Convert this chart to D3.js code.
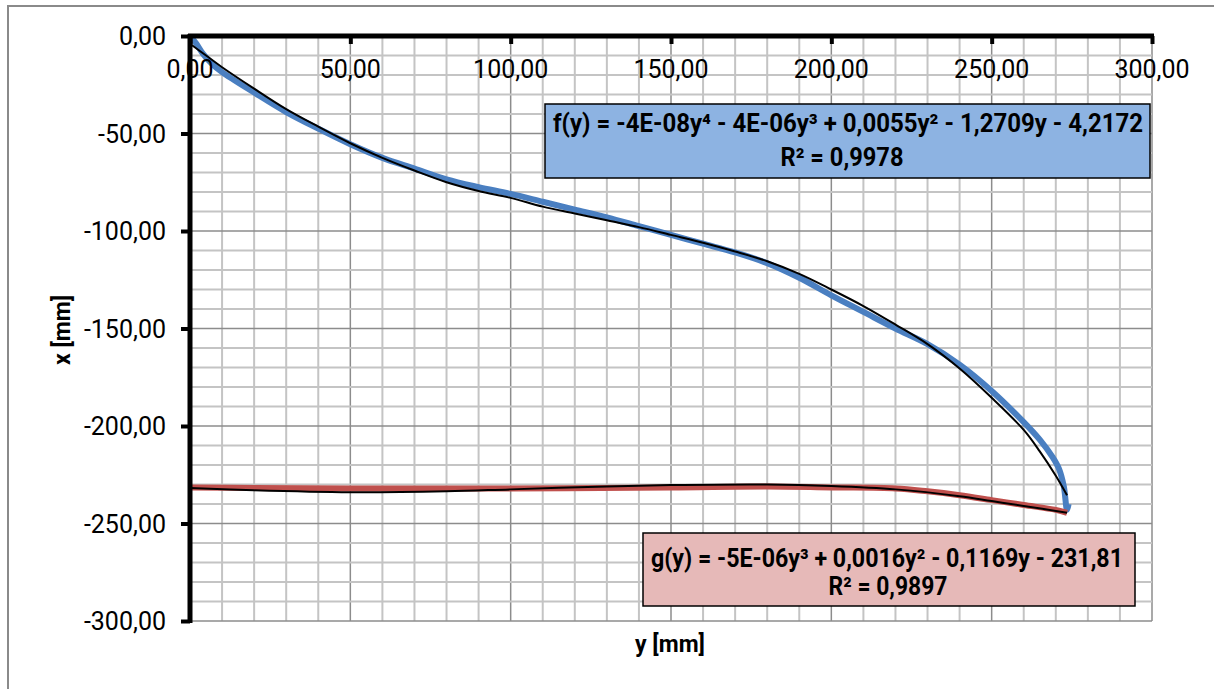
<!DOCTYPE html>
<html>
<head>
<meta charset="utf-8">
<script src="https://cdn.jsdelivr.net/npm/d3@7"></script>
<style>
body { margin: 0; background: #fff; }
svg { display: block; font-family: Roboto, "Liberation Sans", sans-serif; }
</style>
</head>
<body>
<svg width="1214" height="689"></svg>
<script>
// measured curve (blue) : [y, x]
var measuredF = [[0,0],[2,-4],[4,-9],[7,-14.5],[10,-18.5],[20,-29],[30,-39],[40,-47.5],[50,-55.5],
    [60,-62.5],[70,-68],[80,-73.5],[90,-77.5],[100,-81],[110,-85],[120,-89],[130,-93],
    [140,-97.5],[150,-102],[160,-106.5],[170,-111],[180,-116.5],[190,-124],[200,-133],
    [210,-141.5],[220,-150],[230,-158],[240,-168.5],[250,-182],[260,-198],[265,-207],
    [269,-216],[271,-222],[272.5,-231],[273.5,-243],[274,-240]];
// trend of the blue curve
var trendF = [[0,-4],[5,-10],[10,-16],[20,-27],[30,-37.5],[40,-46.5],[50,-55],[60,-62.5],
    [70,-69],[80,-75],[90,-79.5],[100,-83],[110,-87.5],[120,-91],[130,-94.5],[140,-98],
    [150,-102],[160,-106],[170,-110.5],[180,-115.5],[190,-122],[200,-130],[210,-138.5],
    [220,-148],[230,-158],[240,-170.5],[250,-185.5],[260,-202],[265,-213],[270,-225.5],[273.5,-235.5]];
// measured curve (red)
var measuredG = [[0,-231.5],[20,-231.8],[50,-232],[100,-232],[150,-231.5],[180,-231],
    [200,-231.5],[220,-232],[230,-233.5],[240,-235.5],[250,-238],[260,-240.5],[270,-243],[273.5,-244.5]];
var trendG = [[0,-231.8],[20,-233],[50,-234],[80,-233.5],[100,-232.5],[130,-231],[150,-230.3],
    [180,-230],[200,-230.8],[220,-232.5],[240,-236],[250,-238.5],[260,-241],[273.5,-244.5]];

var xTicks = d3.range(0, 301, 50);
var yTicks = d3.range(0, -301, -50);
var eqF = 'f(y) = -4E-08y\u2074 - 4E-06y\u00b3 + 0,0055y\u00b2 - 1,2709y - 4,2172';
var r2F = 'R\u00b2 = 0,9978';
var eqG = 'g(y) = -5E-06y\u00b3 + 0,0016y\u00b2 - 0,1169y - 231,81';
var r2G = 'R\u00b2 = 0,9897';

var svg = d3.select('svg');
var fmt = function(d) { return d3.format('.2f')(d).replace('.', ',').replace('\u2212', '-'); };

var x = d3.scaleLinear().domain([0, 300]).range([190, 1152]);
var y = d3.scaleLinear().domain([0, -300]).range([36, 621]);

// outer frame
svg.append('rect')
    .attr('x', 8).attr('y', 6).attr('width', 1214).attr('height', 689)
    .style('fill', 'none').style('stroke', '#8a8a8a').style('stroke-width', 2);

// grid
var grid = svg.append('g');
d3.range(0, 301, 10).forEach(function(v) {
    var major = v % 50 == 0;
    grid.append('line')
        .attr('x1', x(v)).attr('x2', x(v)).attr('y1', y(0)).attr('y2', y(-300))
        .style('stroke', major ? '#8c8c8c' : '#c4c4c4').style('stroke-width', major ? 1.5 : 2);
});
d3.range(0, -301, -10).forEach(function(v) {
    var major = v % 50 == 0;
    grid.append('line')
        .attr('x1', x(0)).attr('x2', x(300)).attr('y1', y(v)).attr('y2', y(v))
        .style('stroke', major ? '#8c8c8c' : '#c4c4c4').style('stroke-width', major ? 1.5 : 2);
});

// series
var line = d3.line()
    .x(function(d) { return x(d[0]); })
    .y(function(d) { return y(d[1]); })
    .curve(d3.curveCatmullRom);

svg.append('path').attr('d', line(measuredF))
    .style('fill', 'none').style('stroke', '#4a7fc1').style('stroke-width', 6)
    .style('stroke-linejoin', 'round');
svg.append('path').attr('d', line(measuredG))
    .style('fill', 'none').style('stroke', '#c0504d').style('stroke-width', 6)
    .style('stroke-linejoin', 'round');
svg.append('path').attr('d', line(trendF))
    .style('fill', 'none').style('stroke', '#000').style('stroke-width', 2);
svg.append('path').attr('d', line(trendG))
    .style('fill', 'none').style('stroke', '#000').style('stroke-width', 2);

// axes
var xAxis = svg.append('g')
    .attr('transform', 'translate(0,' + y(0) + ')')
    .call(d3.axisBottom(x).tickValues(xTicks).tickSize(8).tickFormat(''));
xAxis.select('.domain').remove();
xAxis.selectAll('line').style('stroke', '#000').style('stroke-width', 4);
svg.append('line')
    .attr('x1', x(0) - 2).attr('x2', x(300) + 2).attr('y1', y(0)).attr('y2', y(0))
    .style('stroke', '#000').style('stroke-width', 5);

var yAxis = svg.append('g')
    .attr('transform', 'translate(' + x(0) + ',0)')
    .call(d3.axisLeft(y).tickValues(yTicks).tickSize(9).tickFormat(''));
yAxis.select('.domain').remove();
yAxis.selectAll('line').style('stroke', '#000').style('stroke-width', 4);
svg.append('line')
    .attr('x1', x(0)).attr('x2', x(0)).attr('y1', y(0) - 2).attr('y2', y(-300) + 2)
    .style('stroke', '#000').style('stroke-width', 5);

// tick labels
svg.append('g').selectAll('text')
    .data(xTicks).enter().append('text')
    .attr('x', function(d) { return x(d); })
    .attr('y', 78)
    .attr('text-anchor', 'middle')
    .style('font-size', '25px')
    .text(fmt);
svg.append('g').selectAll('text')
    .data(yTicks).enter().append('text')
    .attr('x', 166)
    .attr('y', function(d) { return y(d) + 9; })
    .attr('text-anchor', 'end')
    .style('font-size', '25px')
    .text(fmt);

// axis titles
svg.append('text')
    .attr('transform', 'translate(70,330) rotate(-90)')
    .attr('text-anchor', 'middle')
    .style('font-size', '23px').style('font-weight', 'bold')
    .text('x [mm]');
svg.append('text')
    .attr('x', 670).attr('y', 652)
    .attr('text-anchor', 'middle')
    .style('font-size', '23px').style('font-weight', 'bold')
    .text('y [mm]');

// trendline labels
function label(bx, by, bw, bh, fill, lines) {
    svg.append('rect')
        .attr('x', bx).attr('y', by).attr('width', bw).attr('height', bh)
        .style('fill', fill).style('stroke', '#000').style('stroke-width', 1.5);
    lines.forEach(function(l) {
        svg.append('text')
            .attr('x', l.cx).attr('y', l.base)
            .attr('text-anchor', 'middle')
            .attr('textLength', l.len).attr('lengthAdjust', 'spacingAndGlyphs')
            .style('font-size', '26px').style('font-weight', 'bold')
            .text(l.text);
    });
}
label(545, 104, 605, 74, '#8db3e2', [
    {text: eqF, cx: 848, base: 132, len: 590},
    {text: r2F, cx: 842, base: 166, len: 123}]);
label(643, 533, 492, 73, '#e6b9b8', [
    {text: eqG, cx: 887, base: 567, len: 472},
    {text: r2G, cx: 888, base: 595, len: 119}]);
</script>
</body>
</html>
